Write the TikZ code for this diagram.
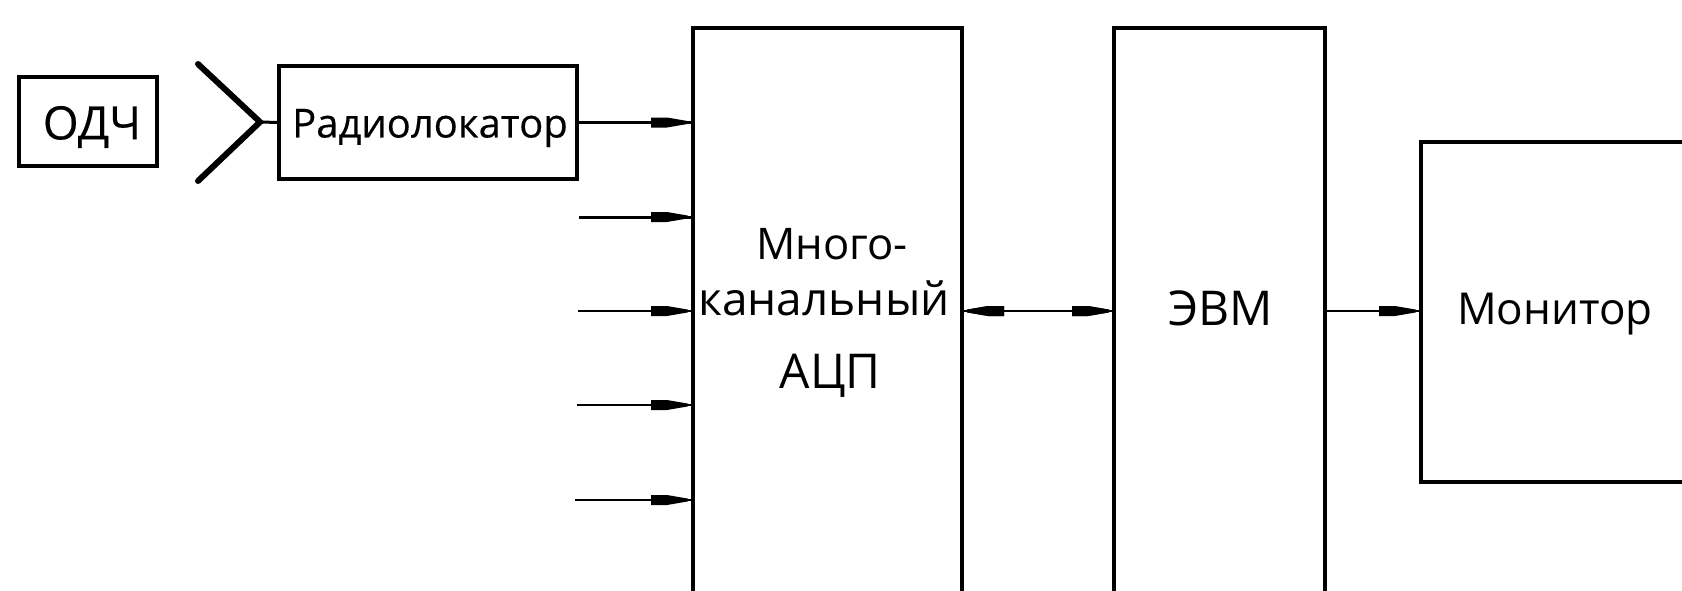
\documentclass[tikz,border=0pt]{standalone}
\usepackage{fontspec}
\setmainfont{Open Sans}
\newfontfamily\heavyfont[FakeBold=0.35]{Open Sans}
\usetikzlibrary{decorations.markings}
\tikzset{
  x=0.5pt,y=-0.5pt,
  box/.style={draw=black,line width=1.7pt,outer sep=0pt,inner sep=0pt,align=center},
  lbl/.style={inner sep=0pt,align=center},
  wire/.style={line width=1.25pt,draw=black},
  thickwire/.style={line width=1.5pt,draw=black},
  antenna/.style={line width=3pt,draw=black,line cap=round},
  headend/.style={postaction={decorate},decoration={markings,mark=at position 1 with {
     \fill[black] (-42,-5)--(-26,-5)--(-5,-1.4)--(-5,1.4)--(-26,5)--(-42,5)--cycle;}}},
  headstart/.style={postaction={decorate},decoration={markings,mark=at position 0 with {
     \fill[black] (42,-5)--(26,-5)--(5,-1.4)--(5,1.4)--(26,5)--(42,5)--cycle;}}},
}
\begin{document}
\begin{tikzpicture}
\useasboundingbox (0,0) rectangle (1682,590);
\clip (0,0) rectangle (1682,590);
\fill[white] (0,0) rectangle (1682,590);
% boxes
\node[box,minimum width=69pt,minimum height=44.5pt] (odch) at (88,121.5) {};
\node[box,minimum width=149pt,minimum height=56.5pt] (radar) at (428,122.5) {};
\node[box,minimum width=134.5pt,minimum height=290pt,anchor=north west] (adc) at (693,28) {};
\node[box,minimum width=105.5pt,minimum height=290pt,anchor=north west] (evm) at (1114,28) {};
\node[box,minimum width=160pt,minimum height=170pt,anchor=north west] (mon) at (1421,142) {};
% labels
\node[lbl,font=\heavyfont\fontsize{23}{27}\selectfont] (t0) at (92,127) {ОДЧ};
\node[lbl,font=\heavyfont\fontsize{20}{24}\selectfont] (t6) at (430,128) {Радиолокатор};
\node[lbl,font=\fontsize{21.8}{26}\selectfont] (t1) at (832,244) {Много-};
\node[lbl,font=\fontsize{23}{27}\selectfont] (t2) at (824,298) {канальный};
\node[lbl,font=\fontsize{24}{28}\selectfont] (t3) at (830,376) {АЦП};
\node[lbl,font=\fontsize{24}{28}\selectfont] (t4) at (1220.5,308) {ЭВМ};
\node[lbl,font=\fontsize{22}{26}\selectfont] (t5) at (1555,314) {Монитор};
% antenna
\coordinate (aj) at (260,122);
\coordinate (at) at (198,64);
\coordinate (ab) at (198,181);
\draw[antenna] (at) -- (aj) -- (ab);
\draw[thickwire] (aj) -- (radar.west);
% inputs
\coordinate (i2) at (579,217);
\coordinate (i3) at (578,311);
\coordinate (i4) at (577,405);
\coordinate (i5) at (575,500);
\draw[thickwire,headend] (radar.east) -- (radar.east -| adc.west);
\draw[thickwire,headend] (i2) -- (i2 -| adc.west);
\draw[wire,headend] (i3) -- (i3 -| adc.west);
\draw[wire,headend] (i4) -- (i4 -| adc.west);
\draw[wire,headend] (i5) -- (i5 -| adc.west);
% outputs
\coordinate (m1) at (962,311);
\coordinate (m2) at (1114,311);
\coordinate (m3) at (1325,311);
\coordinate (m4) at (1421,311);
\draw[wire,headstart,headend] (m1) -- (m2);
\draw[wire,headend] (m3) -- (m4);
\end{tikzpicture}
\end{document}
